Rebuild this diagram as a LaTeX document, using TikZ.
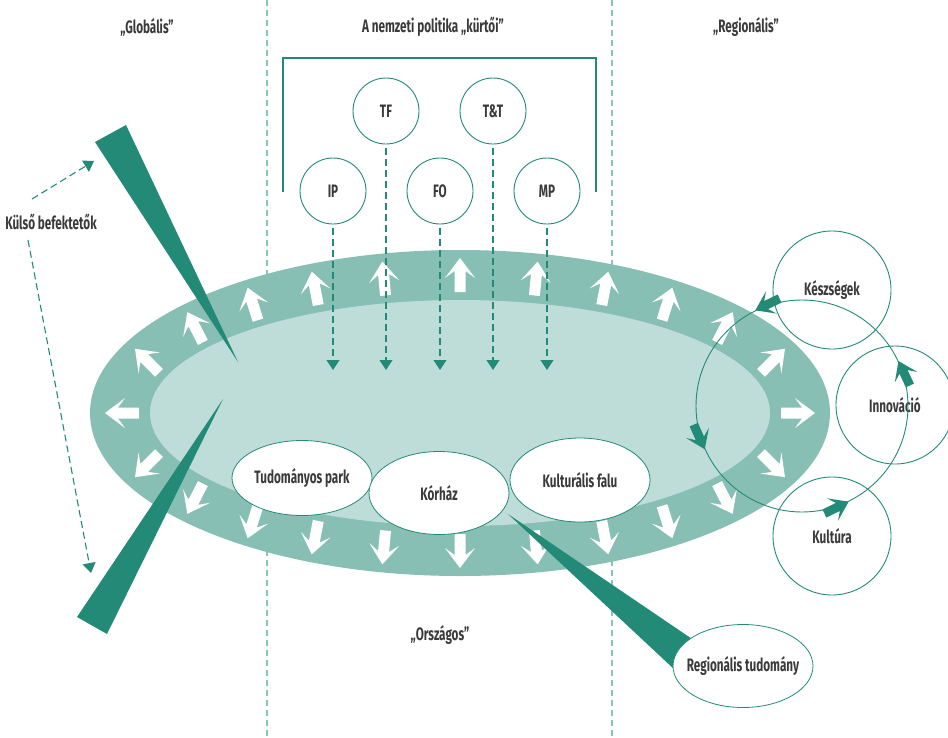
\documentclass[tikz,border=0pt]{standalone}
\usepackage{fontspec}
\setmainfont{Fira Sans}[FakeStretch=0.65]
\usetikzlibrary{arrows.meta,shapes.geometric}
\definecolor{dkg}{HTML}{238A78}
\definecolor{bandc}{HTML}{88BFB5}
\definecolor{innerc}{HTML}{BEDDD8}
\definecolor{divc}{HTML}{86C6B9}
\definecolor{txtc}{HTML}{3A3A3A}
\tikzset{
  lbl/.style={font=\bfseries\fontsize{18}{21}\selectfont, text=txtc, inner sep=0pt},
  pcirc/.style={circle, draw=dkg, line width=0.9pt, fill=white, minimum size=66pt, inner sep=0pt, lbl},
  oval/.style={ellipse, draw=dkg, line width=0.8pt, fill=white, minimum width=140pt, minimum height=#1, inner sep=0pt, lbl},
  rcirc/.style={circle, draw=dkg, line width=0.9pt, minimum size=118pt, inner sep=0pt, lbl},
  divider/.style={divc, line width=1.4pt, dash pattern=on 6pt off 4pt},
  dasharr/.style={dkg, line width=1.1pt, dash pattern=on 7pt off 4pt, -{Triangle[width=13pt,length=10pt]}},
  warrow/.pic={\fill[white] (17,0) -- (-3,15) -- (4,5.5) -- (-17,5.5) -- (-17,-5.5) -- (4,-5.5) -- (-3,-15) -- cycle;},
  garrow/.pic={\fill[dkg] (0,0) -- (-18,12.5) -- (-12,4.5) -- (-27,4.5) -- (-27,-4.5) -- (-12,-4.5) -- (-18,-12.5) -- cycle;}
}
\begin{document}
\begin{tikzpicture}[x=1pt,y=-1pt]
\useasboundingbox (0,0) rectangle (948,737);
% dividers
\coordinate (d1t) at (267,0); \coordinate (d1b) at (267,737);
\coordinate (d2t) at (612,0); \coordinate (d2b) at (612,737);
\draw[divider] (d1t) -- (d1b);
\draw[divider] (d2t) -- (d2b);
% ring
\fill[bandc] (460,413) ellipse [x radius=370, y radius=163];
\fill[innerc] (460,413) ellipse [x radius=310, y radius=113];
% white arrows around the ring
\foreach \t in {0,22.2,38.4,52.2,64.6,77,90,103,115.4,127.8,141.6,157.8,180,-22.2,-38.4,-52.2,-64.6,-77,-90,-103,-115.4,-127.8,-141.6,-157.8}{
  \pgfmathsetmacro\ang{atan2(sin(\t)/138, cos(\t)/338)}
  \pic[rotate=\ang] at ({460+338*cos(\t)},{413-138*sin(\t)}) {warrow};
}
% bracket and policy circles
\coordinate (b1) at (283,192); \coordinate (b2) at (283,58);
\coordinate (b3) at (596,58); \coordinate (b4) at (596,192);
\draw[dkg, line width=1.1pt] (b1) -- (b2) -- (b3) -- (b4);
\node[pcirc] (tf) at (386,111) {TF};
\node[pcirc] (tt) at (493,111) {T\&T};
\node[pcirc] (ip) at (333,191) {IP};
\node[pcirc] (fo) at (440,191) {FO};
\node[pcirc] (mp) at (547,191) {MP};
\foreach \n/\x in {ip/333,tf/386,fo/440,tt/493,mp/547}{
  \coordinate (\n end) at (\x,370);
  \draw[dasharr, shorten <=4pt] (\n) -- (\n end);
}
% global wedges
\fill[dkg] (95,142) -- (126,125) -- (238,362) -- cycle;
\fill[dkg] (77,617) -- (107,634) -- (223,399) -- cycle;
% inner nodes
\node[oval=75pt] (tp) at (302,478) {Tudományos park};
\node[oval=84pt] (kf) at (580,480) {Kulturális falu};
\node[oval=83pt] (kh) at (439,493) {Kórház};
% regional science
\fill[dkg] (508,514) -- (726,662) -- (706,699) -- cycle;
\node[oval=83pt, inner xsep=-8pt] (rt) at (743,666) {Regionális tudomány};
% regional circles
\node[rcirc] (kes) at (832,290) {Készségek};
\node[rcirc] (inn) at (895,405) {Innováció};
\node[rcirc] (kul) at (832,536) {Kultúra};
\node[circle, draw=dkg, line width=0.9pt, minimum size=212pt, inner sep=0pt] (cyc) at (802,406) {};
\foreach \a in {25,116,204,296}{
  \pgfmathsetmacro\r{\a+90}
  \pic[rotate=\r] at (cyc.\a) {garrow};
}
% headers
\node[lbl] (hg) at (147,27) {„Globális”};
\node[lbl] (hn) at (433,27) {A nemzeti politika „kürtői”};
\node[lbl] (hr) at (746,27) {„Regionális”};
\node[lbl] (ho) at (440,635) {„Országos”};
% external investors
\node[lbl] (kb) at (51,222) {Külső befektetők};
\coordinate (kb1s) at (32,199); \coordinate (kb1e) at (94,161);
\coordinate (kb2s) at (28,240); \coordinate (kb2e) at (91,573);
\draw[dasharr] (kb1s) -- (kb1e);
\draw[dasharr] (kb2s) -- (kb2e);
\end{tikzpicture}
\end{document}
